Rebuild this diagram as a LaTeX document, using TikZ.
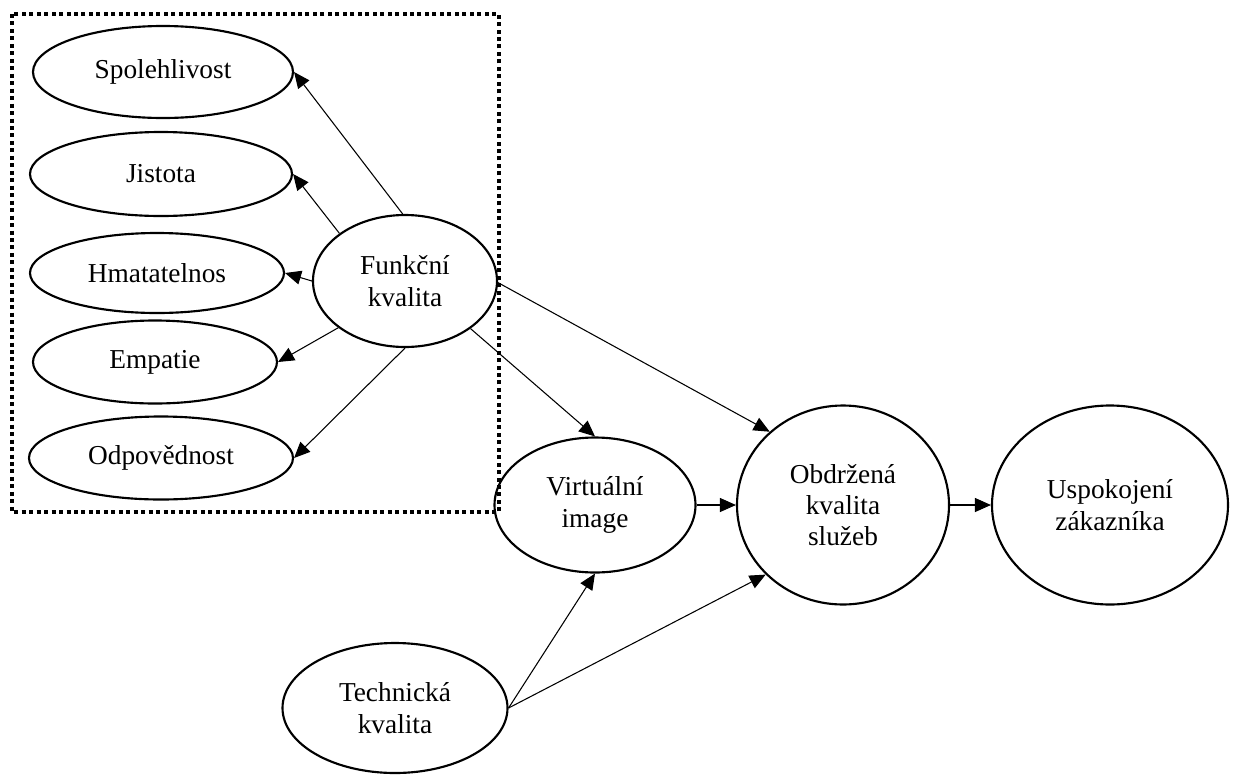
\documentclass[tikz,border=0pt]{standalone}
\usepackage{fontspec}
\setmainfont{Liberation Serif}
\usetikzlibrary{shapes.geometric,arrows.meta}
\begin{document}
\begin{tikzpicture}[x=0.75pt,y=-0.75pt,
  oval/.style={ellipse,draw,line width=1.6pt,inner sep=0pt,align=center,
    font=\fontsize{20.5}{23.5}\selectfont},
  link/.style={line width=0.8pt,-{Triangle[length=12pt,width=10.5pt]}},
  frame/.style={line width=3pt,dash pattern=on 3pt off 2.6pt}]
\useasboundingbox (0,0) rectangle (1242,775);

% dotted box around the dimensions of functional quality
\draw[frame] (12,14) rectangle (499,512);

% quality dimensions
\node[oval,minimum width=195pt,minimum height=69pt] (spol) at (163,72) {Spolehlivost};
\node[oval,minimum width=196.5pt,minimum height=63pt] (jist) at (161,174) {Jistota};
\node[oval,minimum width=190.5pt,minimum height=60pt] (hmat) at (157,273) {Hmatatelnos};
\node[oval,minimum width=183pt,minimum height=62.25pt] (emp) at (155,362) {Empatie};
\node[oval,minimum width=198pt,minimum height=62.25pt] (odp) at (161,458) {Odpovědnost};

% main constructs
\node[oval,minimum width=138pt,minimum height=99pt] (funk) at (405,281) {Funkční\\kvalita};
\node[oval,minimum width=150.75pt,minimum height=101.25pt] (virt) at (595,505) {Virtuální\\image};
\node[oval,minimum width=159pt,minimum height=149.25pt] (obd) at (843,505) {Obdržená\\kvalita\\služeb};
\node[oval,minimum width=177pt,minimum height=149.25pt] (usp) at (1110,505) {Uspokojení\\zákazníka};
\node[oval,minimum width=168.75pt,minimum height=97.5pt] (tech) at (395,708) {Technická\\kvalita};

% functional quality to its dimensions
\draw[link] (funk.92) -- (spol.east);
\draw[link] (funk.144) -- (jist.east);
\draw[link] (funk.west) -- (hmat.east);
\draw[link] (funk.215) -- (emp.east);
\draw[link] (funk.south) -- (odp.east);

% paths towards satisfaction
\draw[link] (funk.359) -- (obd.135);
\draw[link] (funk.324) -- (virt.north);
\draw[link] (virt.east) -- (obd.west);
\draw[link] (obd.east) -- (usp.west);
\draw[link] (tech.east) -- (virt.south);
\draw[link] (tech.east) -- (obd.222);
\end{tikzpicture}
\end{document}
